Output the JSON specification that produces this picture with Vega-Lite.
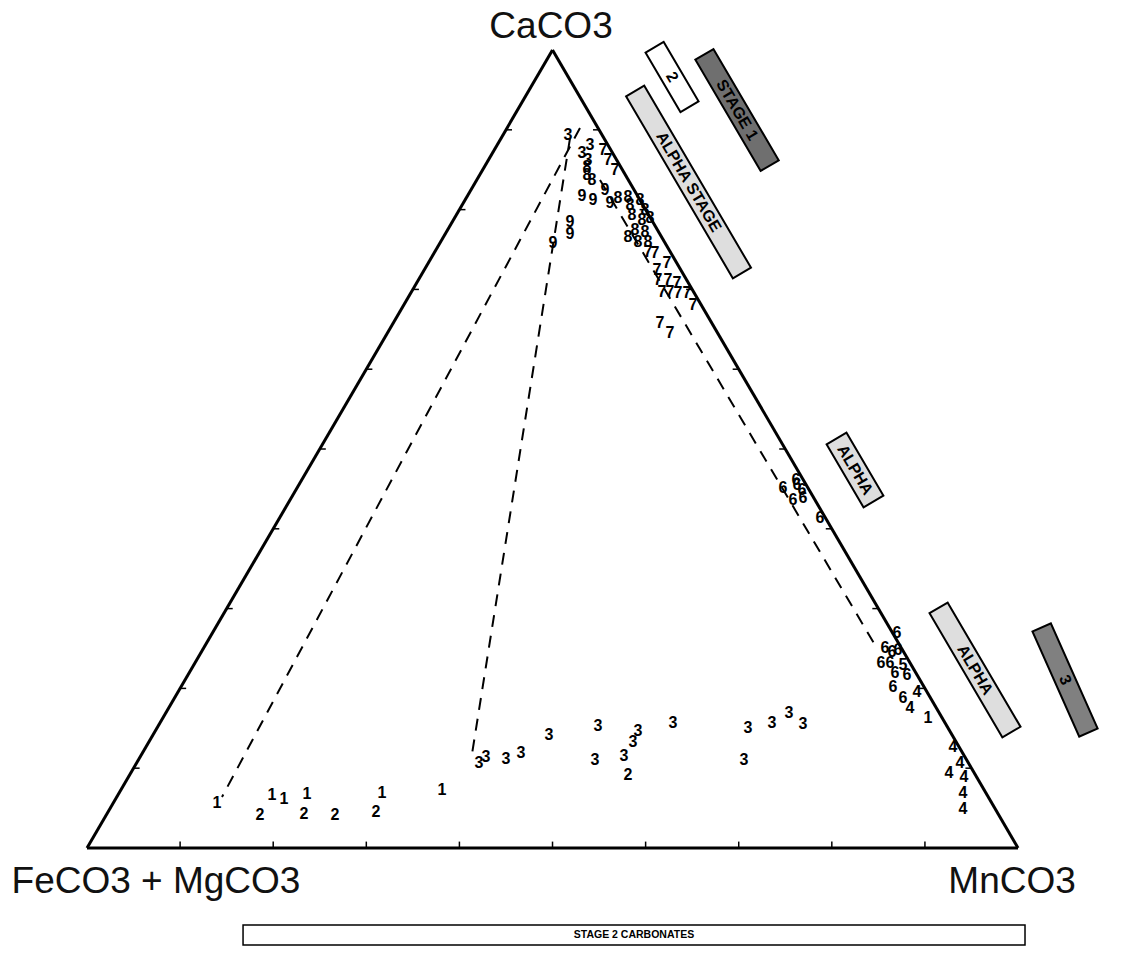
{
  "$schema": "https://vega.github.io/schema/vega-lite/v6.json",
  "width": 1121,
  "height": 977,
  "autosize": {"type": "fit", "contains": "padding"},
  "padding": 0,
  "background": "white",
  "config": {"view": {"stroke": null}},
  "datasets": {
    "edges": [
      {"x": 0, "y": 0, "x2": 50, "y2": 100},
      {"x": 50, "y": 100, "x2": 100, "y2": 0},
      {"x": 0, "y": 0, "x2": 100, "y2": 0}
    ],
    "ticks": [
      {"x": 10, "y": 0, "x2": 10, "y2": 0.8},
      {"x": 20, "y": 0, "x2": 20, "y2": 0.8},
      {"x": 30, "y": 0, "x2": 30, "y2": 0.8},
      {"x": 40, "y": 0, "x2": 40, "y2": 0.8},
      {"x": 50, "y": 0, "x2": 50, "y2": 0.8},
      {"x": 60, "y": 0, "x2": 60, "y2": 0.8},
      {"x": 70, "y": 0, "x2": 70, "y2": 0.8},
      {"x": 80, "y": 0, "x2": 80, "y2": 0.8},
      {"x": 90, "y": 0, "x2": 90, "y2": 0.8},
      {"x": 5, "y": 10, "x2": 5.65, "y2": 10},
      {"x": 10, "y": 20, "x2": 10.65, "y2": 20},
      {"x": 15, "y": 30, "x2": 15.65, "y2": 30},
      {"x": 20, "y": 40, "x2": 20.65, "y2": 40},
      {"x": 25, "y": 50, "x2": 25.65, "y2": 50},
      {"x": 30, "y": 60, "x2": 30.65, "y2": 60},
      {"x": 35, "y": 70, "x2": 35.65, "y2": 70},
      {"x": 40, "y": 80, "x2": 40.65, "y2": 80},
      {"x": 45, "y": 90, "x2": 45.65, "y2": 90},
      {"x": 95, "y": 10, "x2": 94.35, "y2": 10},
      {"x": 90, "y": 20, "x2": 89.35, "y2": 20},
      {"x": 85, "y": 30, "x2": 84.35, "y2": 30},
      {"x": 80, "y": 40, "x2": 79.35, "y2": 40},
      {"x": 75, "y": 50, "x2": 74.35, "y2": 50},
      {"x": 70, "y": 60, "x2": 69.35, "y2": 60},
      {"x": 65, "y": 70, "x2": 64.35, "y2": 70},
      {"x": 60, "y": 80, "x2": 59.35, "y2": 80},
      {"x": 55, "y": 90, "x2": 54.35, "y2": 90}
    ],
    "dashes": [
      {"x": 52.95, "y": 90.23, "x2": 14.5, "y2": 6.39},
      {"x": 51.88, "y": 88.97, "x2": 41.25, "y2": 11.03},
      {"x": 55.1, "y": 83.71, "x2": 84.64, "y2": 25.44}
    ],
    "boxes": [
      {"box": "a", "x": 62.84, "y": 96.62, "label": "2"},
      {"box": "b", "x": 69.82, "y": 92.48, "label": "STAGE 1"},
      {"box": "c", "x": 64.61, "y": 83.46, "label": "ALPHA STAGE"},
      {"box": "d", "x": 82.49, "y": 47.37, "label": "ALPHA"},
      {"box": "e", "x": 95.38, "y": 22.31, "label": "ALPHA"}
    ],
    "boxes3": [
      {"box": "f", "x": 105.05, "y": 21.05, "label": "3"}
    ],
    "bottombox": [
      {"x": 16.76, "x2": 100.75, "y": -9.65, "y2": -12.16, "xm": 58.75, "ym": -10.9, "label": "STAGE 2 CARBONATES"}
    ],
    "corners": [
      {"x": 49.84, "y": 101.5, "label": "CaCO3"},
      {"x": 7.41, "y": -5.64, "label": "FeCO3 + MgCO3"},
      {"x": 99.36, "y": -5.64, "label": "MnCO3"}
    ],
    "pts": [
      {"x": 13.96, "y": 5.64, "label": "1"},
      {"x": 18.58, "y": 4.14, "label": "2"},
      {"x": 19.87, "y": 6.64, "label": "1"},
      {"x": 21.16, "y": 6.14, "label": "1"},
      {"x": 23.63, "y": 6.77, "label": "1"},
      {"x": 23.31, "y": 4.26, "label": "2"},
      {"x": 26.64, "y": 4.14, "label": "2"},
      {"x": 31.04, "y": 4.51, "label": "2"},
      {"x": 31.69, "y": 6.89, "label": "1"},
      {"x": 38.13, "y": 7.27, "label": "1"},
      {"x": 42.11, "y": 10.65, "label": "3"},
      {"x": 42.86, "y": 11.4, "label": "3"},
      {"x": 45.01, "y": 11.15, "label": "3"},
      {"x": 46.62, "y": 11.9, "label": "3"},
      {"x": 49.62, "y": 14.16, "label": "3"},
      {"x": 54.89, "y": 15.29, "label": "3"},
      {"x": 54.56, "y": 11.03, "label": "3"},
      {"x": 57.68, "y": 11.53, "label": "3"},
      {"x": 58.11, "y": 9.15, "label": "2"},
      {"x": 59.18, "y": 14.66, "label": "3"},
      {"x": 58.65, "y": 13.28, "label": "3"},
      {"x": 62.94, "y": 15.66, "label": "3"},
      {"x": 70.99, "y": 15.04, "label": "3"},
      {"x": 70.57, "y": 11.03, "label": "3"},
      {"x": 73.58, "y": 15.66, "label": "3"},
      {"x": 75.4, "y": 16.92, "label": "3"},
      {"x": 76.91, "y": 15.54, "label": "3"},
      {"x": 87.0, "y": 26.94, "label": "6"},
      {"x": 85.71, "y": 25.06, "label": "6"},
      {"x": 86.47, "y": 24.56, "label": "6"},
      {"x": 87.11, "y": 24.81, "label": "6"},
      {"x": 85.28, "y": 23.18, "label": "6"},
      {"x": 86.25, "y": 23.18, "label": "6"},
      {"x": 87.65, "y": 22.93, "label": "5"},
      {"x": 86.79, "y": 21.93, "label": "6"},
      {"x": 88.08, "y": 21.68, "label": "6"},
      {"x": 86.57, "y": 20.18, "label": "6"},
      {"x": 89.15, "y": 19.55, "label": "4"},
      {"x": 87.65, "y": 18.8, "label": "6"},
      {"x": 88.4, "y": 17.54, "label": "4"},
      {"x": 90.33, "y": 16.29, "label": "1"},
      {"x": 93.02, "y": 12.66, "label": "4"},
      {"x": 93.77, "y": 10.65, "label": "4"},
      {"x": 92.59, "y": 9.4, "label": "4"},
      {"x": 94.2, "y": 8.9, "label": "4"},
      {"x": 94.09, "y": 6.89, "label": "4"},
      {"x": 94.09, "y": 4.89, "label": "4"},
      {"x": 74.76, "y": 45.11, "label": "6"},
      {"x": 76.15, "y": 46.12, "label": "6"},
      {"x": 76.26, "y": 45.49, "label": "6"},
      {"x": 76.8, "y": 44.86, "label": "6"},
      {"x": 75.83, "y": 43.61, "label": "6"},
      {"x": 76.91, "y": 43.86, "label": "6"},
      {"x": 78.73, "y": 41.35, "label": "6"},
      {"x": 51.66, "y": 89.35, "label": "3"},
      {"x": 53.17, "y": 87.09, "label": "3"},
      {"x": 54.03, "y": 88.1, "label": "3"},
      {"x": 53.81, "y": 86.22, "label": "3"},
      {"x": 53.71, "y": 85.34, "label": "8"},
      {"x": 53.71, "y": 84.34, "label": "8"},
      {"x": 54.24, "y": 83.71, "label": "8"},
      {"x": 55.42, "y": 87.47, "label": "7"},
      {"x": 55.96, "y": 86.22, "label": "7"},
      {"x": 56.71, "y": 84.96, "label": "7"},
      {"x": 53.17, "y": 81.7, "label": "9"},
      {"x": 54.35, "y": 81.2, "label": "9"},
      {"x": 55.64, "y": 82.46, "label": "9"},
      {"x": 56.18, "y": 80.83, "label": "9"},
      {"x": 57.04, "y": 81.45, "label": "8"},
      {"x": 58.11, "y": 81.58, "label": "8"},
      {"x": 58.32, "y": 80.58, "label": "8"},
      {"x": 59.4, "y": 81.2, "label": "8"},
      {"x": 59.94, "y": 79.95, "label": "8"},
      {"x": 58.54, "y": 79.32, "label": "8"},
      {"x": 59.61, "y": 78.7, "label": "8"},
      {"x": 60.47, "y": 78.95, "label": "8"},
      {"x": 58.86, "y": 77.44, "label": "8"},
      {"x": 59.94, "y": 77.19, "label": "8"},
      {"x": 59.18, "y": 75.94, "label": "8"},
      {"x": 60.25, "y": 75.94, "label": "8"},
      {"x": 58.11, "y": 76.57, "label": "8"},
      {"x": 51.88, "y": 78.45, "label": "9"},
      {"x": 51.88, "y": 76.94, "label": "9"},
      {"x": 50.05, "y": 75.81, "label": "9"},
      {"x": 60.26, "y": 74.69, "label": "7"},
      {"x": 61.01, "y": 74.56, "label": "7"},
      {"x": 62.3, "y": 73.31, "label": "7"},
      {"x": 61.22, "y": 72.43, "label": "7"},
      {"x": 61.33, "y": 71.18, "label": "7"},
      {"x": 62.41, "y": 71.18, "label": "7"},
      {"x": 63.37, "y": 70.8, "label": "7"},
      {"x": 61.76, "y": 69.67, "label": "7"},
      {"x": 62.62, "y": 69.67, "label": "7"},
      {"x": 63.48, "y": 69.55, "label": "7"},
      {"x": 64.45, "y": 69.55, "label": "7"},
      {"x": 65.09, "y": 68.05, "label": "7"},
      {"x": 61.55, "y": 65.79, "label": "7"},
      {"x": 62.62, "y": 64.54, "label": "7"}
    ]
  },
  "layer": [
    {
      "data": {"name": "edges"},
      "mark": {"type": "rule", "color": "black", "strokeWidth": 3},
      "encoding": {
        "x": {"field": "x", "type": "quantitative", "scale": {"domain": [-9.345, 111.06], "nice": false, "zero": false}, "axis": null},
        "y": {"field": "y", "type": "quantitative", "scale": {"domain": [-16.17, 106.27], "nice": false, "zero": false}, "axis": null},
        "x2": {"field": "x2"},
        "y2": {"field": "y2"}
      }
    },
    {
      "data": {"name": "ticks"},
      "mark": {"type": "rule", "color": "black", "strokeWidth": 1.5},
      "encoding": {
        "x": {"field": "x", "type": "quantitative", "axis": null},
        "y": {"field": "y", "type": "quantitative", "axis": null},
        "x2": {"field": "x2"},
        "y2": {"field": "y2"}
      }
    },
    {
      "data": {"name": "dashes"},
      "mark": {"type": "rule", "color": "black", "strokeWidth": 2, "strokeDash": [12, 9]},
      "encoding": {
        "x": {"field": "x", "type": "quantitative", "axis": null},
        "y": {"field": "y", "type": "quantitative", "axis": null},
        "x2": {"field": "x2"},
        "y2": {"field": "y2"}
      }
    },
    {
      "data": {"name": "boxes"},
      "transform": [{"filter": "datum.box === 'a'"}],
      "mark": {"type": "point", "shape": "M -1 -0.304 L 1 -0.304 L 1 0.304 L -1 0.304 Z", "size": 4761, "angle": 59.6, "fill": "white", "stroke": "black", "strokeWidth": 2, "opacity": 1, "fillOpacity": 1, "strokeOpacity": 1},
      "encoding": {
        "x": {"field": "x", "type": "quantitative", "axis": null},
        "y": {"field": "y", "type": "quantitative", "axis": null}
      }
    },
    {
      "data": {"name": "boxes"},
      "transform": [{"filter": "datum.box === 'b'"}],
      "mark": {"type": "point", "shape": "M -1 -0.163 L 1 -0.163 L 1 0.163 L -1 0.163 Z", "size": 16641, "angle": 59.6, "fill": "#6f6f6f", "stroke": "black", "strokeWidth": 2, "opacity": 1, "fillOpacity": 1, "strokeOpacity": 1},
      "encoding": {
        "x": {"field": "x", "type": "quantitative", "axis": null},
        "y": {"field": "y", "type": "quantitative", "axis": null}
      }
    },
    {
      "data": {"name": "boxes"},
      "transform": [{"filter": "datum.box === 'c'"}],
      "mark": {"type": "point", "shape": "M -1 -0.0995 L 1 -0.0995 L 1 0.0995 L -1 0.0995 Z", "size": 44521, "angle": 59.6, "fill": "#dedede", "stroke": "black", "strokeWidth": 2, "opacity": 1, "fillOpacity": 1, "strokeOpacity": 1},
      "encoding": {
        "x": {"field": "x", "type": "quantitative", "axis": null},
        "y": {"field": "y", "type": "quantitative", "axis": null}
      }
    },
    {
      "data": {"name": "boxes"},
      "transform": [{"filter": "datum.box === 'd'"}],
      "mark": {"type": "point", "shape": "M -1 -0.315 L 1 -0.315 L 1 0.315 L -1 0.315 Z", "size": 5329, "angle": 59.6, "fill": "#dedede", "stroke": "black", "strokeWidth": 2, "opacity": 1, "fillOpacity": 1, "strokeOpacity": 1},
      "encoding": {
        "x": {"field": "x", "type": "quantitative", "axis": null},
        "y": {"field": "y", "type": "quantitative", "axis": null}
      }
    },
    {
      "data": {"name": "boxes"},
      "transform": [{"filter": "datum.box === 'e'"}],
      "mark": {"type": "point", "shape": "M -1 -0.146 L 1 -0.146 L 1 0.146 L -1 0.146 Z", "size": 20736, "angle": 59.6, "fill": "#dedede", "stroke": "black", "strokeWidth": 2, "opacity": 1, "fillOpacity": 1, "strokeOpacity": 1},
      "encoding": {
        "x": {"field": "x", "type": "quantitative", "axis": null},
        "y": {"field": "y", "type": "quantitative", "axis": null}
      }
    },
    {
      "data": {"name": "boxes3"},
      "mark": {"type": "point", "shape": "M -1 -0.175 L 1 -0.175 L 1 0.175 L -1 0.175 Z", "size": 13225, "angle": 66, "fill": "#808080", "stroke": "black", "strokeWidth": 2, "opacity": 1, "fillOpacity": 1, "strokeOpacity": 1},
      "encoding": {
        "x": {"field": "x", "type": "quantitative", "axis": null},
        "y": {"field": "y", "type": "quantitative", "axis": null}
      }
    },
    {
      "data": {"name": "boxes"},
      "mark": {"type": "text", "angle": 59.6, "font": "Liberation Sans", "fontWeight": "bold", "fontSize": 16, "align": "center", "baseline": "middle", "color": "black"},
      "encoding": {
        "x": {"field": "x", "type": "quantitative", "axis": null},
        "y": {"field": "y", "type": "quantitative", "axis": null},
        "text": {"field": "label"}
      }
    },
    {
      "data": {"name": "boxes3"},
      "mark": {"type": "text", "angle": 66, "font": "Liberation Sans", "fontWeight": "bold", "fontSize": 16, "align": "center", "baseline": "middle", "color": "black"},
      "encoding": {
        "x": {"field": "x", "type": "quantitative", "axis": null},
        "y": {"field": "y", "type": "quantitative", "axis": null},
        "text": {"field": "label"}
      }
    },
    {
      "data": {"name": "bottombox"},
      "mark": {"type": "rect", "fill": "white", "stroke": "black", "strokeWidth": 1.5},
      "encoding": {
        "x": {"field": "x", "type": "quantitative", "axis": null},
        "y": {"field": "y", "type": "quantitative", "axis": null},
        "x2": {"field": "x2"},
        "y2": {"field": "y2"}
      }
    },
    {
      "data": {"name": "bottombox"},
      "mark": {"type": "text", "font": "Liberation Sans", "fontWeight": "bold", "fontSize": 10.5, "align": "center", "baseline": "middle", "color": "black"},
      "encoding": {
        "x": {"field": "xm", "type": "quantitative", "axis": null},
        "y": {"field": "ym", "type": "quantitative", "axis": null},
        "text": {"field": "label"}
      }
    },
    {
      "data": {"name": "pts"},
      "mark": {"type": "text", "font": "Liberation Sans", "fontWeight": "bold", "fontSize": 16, "align": "center", "baseline": "middle", "color": "black"},
      "encoding": {
        "x": {"field": "x", "type": "quantitative", "axis": null},
        "y": {"field": "y", "type": "quantitative", "axis": null},
        "text": {"field": "label"}
      }
    },
    {
      "data": {"name": "corners"},
      "mark": {"type": "text", "font": "Liberation Sans", "fontSize": 37, "align": "center", "baseline": "alphabetic", "color": "#111"},
      "encoding": {
        "x": {"field": "x", "type": "quantitative", "axis": null},
        "y": {"field": "y", "type": "quantitative", "axis": null},
        "text": {"field": "label"}
      }
    }
  ]
}
